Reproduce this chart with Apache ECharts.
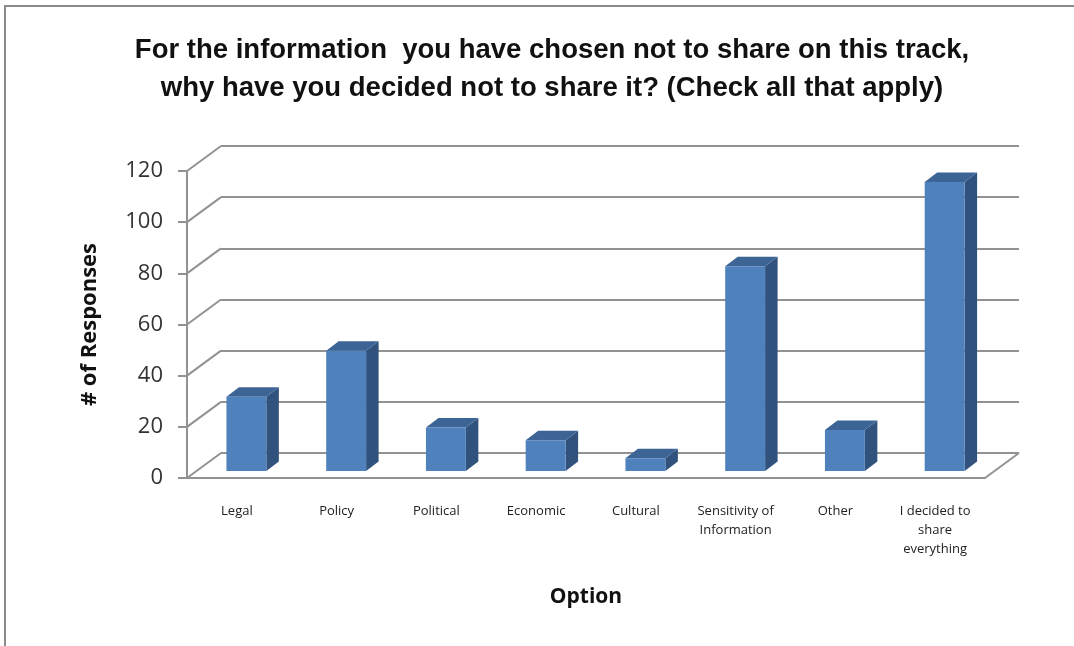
<!DOCTYPE html>
<html>
<head>
<meta charset="utf-8">
<style>
  html, body { margin: 0; padding: 0; background: #fff; }
  #chart { width: 1074px; height: 646px; }
</style>
<script src="https://cdn.jsdelivr.net/npm/echarts@6/dist/echarts.min.js"></script>
</head>
<body>
<div id="chart"></div>
<script>
// Survey responses per reason for withholding information
const categories = [
  'Legal', 'Policy', 'Political', 'Economic', 'Cultural',
  'Sensitivity of\nInformation', 'Other', 'I decided to\nshare\neverything'
];
const responses = [29, 47, 17, 12, 5, 80, 16, 113];
const yTicks = [0, 20, 40, 60, 80, 100, 120];

const titleText = 'For the information  you have chosen not to share on this track,\nwhy have you decided not to share it? (Check all that apply)';

// Oblique "3D" projection: full floor depth and the slab a bar occupies
const DEPTH = [34, -25];
const BAR_FRONT = 0.28;   // bar front face as a fraction of the depth
const BAR_DEPTH = [12.5, -9.5];
const GRID_COLOR = '#929292';
const FRONT = '#4F81BD', TOP = '#3C6596', SIDE = '#30527C';

const chart = echarts.init(document.getElementById('chart'));

const frontGrid = { left: 187, right: 89, top: 171, bottom: 168 };
const backGrid = {
  left: frontGrid.left + DEPTH[0], right: frontGrid.right - DEPTH[0],
  top: frontGrid.top + DEPTH[1], bottom: frontGrid.bottom - DEPTH[1]
};

const FONT = '"Open Sans", sans-serif';

chart.setOption({
  animation: false,
  backgroundColor: '#fff',
  title: {
    text: titleText,
    left: 547, top: 26, textAlign: 'center',
    textStyle: { fontFamily: '"Liberation Sans", sans-serif', fontSize: 27.5, fontWeight: 'bold', color: '#111', lineHeight: 38 }
  },
  graphic: [
    { type: 'polyline', shape: { points: [[5, 646], [5, 6], [1074, 6]] }, style: { stroke: '#8a8a8a', lineWidth: 2, fill: null } }
  ],
  grid: [
    Object.assign({ containLabel: false }, frontGrid),
    Object.assign({ containLabel: false }, backGrid)
  ],
  xAxis: [
    {
      gridIndex: 0, type: 'category', data: categories,
      axisLine: { lineStyle: { color: GRID_COLOR, width: 2 } },
      axisTick: { show: false },
      axisLabel: { margin: 24, fontFamily: FONT, fontSize: 13, color: '#222', lineHeight: 19, interval: 0 },
      name: 'Option', nameLocation: 'middle', nameGap: 109,
      nameTextStyle: { fontFamily: FONT, fontSize: 21, fontWeight: 'bold', color: '#111' }
    },
    { gridIndex: 1, type: 'category', data: categories, show: false }
  ],
  yAxis: [
    {
      gridIndex: 0, type: 'value', min: 0, max: 120, interval: 20,
      axisLine: { show: true, lineStyle: { color: GRID_COLOR, width: 2 } },
      axisTick: { show: true, length: 9, lineStyle: { color: GRID_COLOR, width: 2 } },
      splitLine: { show: false },
      axisLabel: {
        margin: 24, fontFamily: FONT, fontSize: 22, color: '#333',
        formatter: v => (yTicks.indexOf(v) >= 0 ? String(v) : '')
      },
      name: '# of Responses', nameLocation: 'middle', nameGap: 86, nameRotate: 90,
      nameTextStyle: { fontFamily: FONT, fontSize: 22, fontWeight: 'bold', color: '#111' }
    },
    {
      gridIndex: 1, type: 'value', min: 0, max: 120, interval: 20,
      axisLine: { show: false }, axisTick: { show: false }, axisLabel: { show: false },
      splitLine: { show: true, lineStyle: { color: GRID_COLOR, width: 2 } }
    }
  ],
  series: [
    {
      // side wall diagonals from each front tick to the back wall, plus floor right edge
      type: 'custom', xAxisIndex: 0, yAxisIndex: 0, silent: true, z: 1,
      data: yTicks.map(v => [0, v]),
      renderItem: function (params, api) {
        const cs = params.coordSys;
        const y = api.coord([0, api.value(1)])[1];
        const children = [{
          type: 'line',
          shape: { x1: cs.x, y1: y, x2: cs.x + DEPTH[0], y2: y + DEPTH[1] },
          style: { stroke: GRID_COLOR, lineWidth: 2 }
        }];
        if (api.value(1) === 0) {
          const xr = cs.x + cs.width;
          children.push({
            type: 'line',
            shape: { x1: xr, y1: y, x2: xr + DEPTH[0], y2: y + DEPTH[1] },
            style: { stroke: GRID_COLOR, lineWidth: 2 }
          });
        }
        return { type: 'group', children: children };
      }
    },
    {
      // 3D column: front face, top face, right side face
      type: 'custom', xAxisIndex: 0, yAxisIndex: 0, z: 5,
      data: responses.map((v, i) => [i, v]),
      renderItem: function (params, api) {
        const base = api.coord([api.value(0), 0]);
        const top = api.coord([api.value(0), api.value(1)]);
        const bw = api.size([1, 0])[0] * 0.4;
        const ox = DEPTH[0] * BAR_FRONT, oy = DEPTH[1] * BAR_FRONT;
        const xl = base[0] + ox - bw / 2, xr = xl + bw;
        const yb = base[1] + oy, yt = top[1] + oy;
        const dx = BAR_DEPTH[0], dy = BAR_DEPTH[1];
        return {
          type: 'group',
          children: [
            { type: 'polygon', shape: { points: [[xr, yt], [xr + dx, yt + dy], [xr + dx, yb + dy], [xr, yb]] }, style: { fill: SIDE } },
            { type: 'polygon', shape: { points: [[xl, yt], [xr, yt], [xr + dx, yt + dy], [xl + dx, yt + dy]] }, style: { fill: TOP } },
            { type: 'rect', shape: { x: xl, y: yt, width: bw, height: yb - yt }, style: { fill: FRONT } }
          ]
        };
      }
    }
  ]
});
</script>
</body>
</html>
